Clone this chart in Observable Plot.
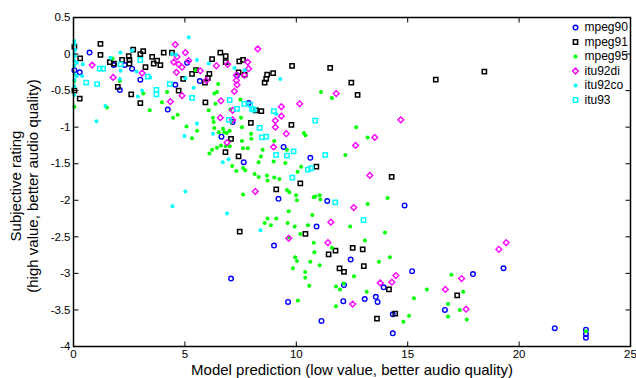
<!DOCTYPE html>
<html>
<head>
<meta charset="utf-8">
<script src="https://cdn.jsdelivr.net/npm/d3@7"></script>
<script src="https://cdn.jsdelivr.net/npm/@observablehq/plot@0.6"></script>
<style>
  html, body { margin: 0; padding: 0; background: #fff; }
  #chart { width: 636px; height: 378px; }
</style>
</head>
<body>
<div id="chart"></div>
<script>
// ---- data (x = model prediction, y = subjective rating) ----
const seriesNames = ["mpeg90", "mpeg91", "mpeg95", "itu92di", "itu92co", "itu93"];
const xTicks = [0, 5, 10, 15, 20, 25];
const yTicks = [0.5, 0, -0.5, -1, -1.5, -2, -2.5, -3, -3.5, -4];
const xLabel = "Model prediction (low value, better audio quality)";
const yLabelLines = ["Subjective rating", "(high value, better audio quality)"];

const mpeg90 = [[0.04,-0.22],[0.28,-0.25],[0.72,0.02],[1.81,-0.15],[2.3,-0.15],[2.63,-0.2],[3.0,-0.35],[2.08,-0.49],[4.57,-0.42],[4.23,-0.76],[5.1,-0.12],[5.67,-0.37],[7.34,-0.29],[7.86,-0.67],[7.14,-0.93],[6.64,-1.13],[9.43,-1.27],[7.64,-1.48],[10.63,-1.42],[9.2,-1.98],[11.39,-2.01],[10.91,-2.36],[9.0,-2.62],[14.86,-2.07],[12.44,-2.81],[7.07,-3.07],[12.14,-3.16],[9.63,-3.39],[12.11,-3.38],[11.13,-3.65],[15.2,-2.97],[13.92,-3.19],[13.07,-3.35],[13.57,-3.32],[13.65,-3.39],[14.33,-3.56],[14.33,-3.82],[17.93,-3.01],[16.67,-3.5],[19.3,-2.93],[21.6,-3.75],[23.0,-3.77],[23.0,-3.83],[23.0,-3.88]];

const mpeg91 = [[0.04,0.1],[0.04,-0.5],[0.3,-0.06],[0.28,-0.61],[1.21,0.14],[1.21,-0.01],[1.63,-0.11],[1.81,-0.13],[1.99,-0.45],[2.18,-0.08],[2.48,-0.03],[2.51,-0.08],[2.51,-0.13],[2.59,-0.55],[2.68,0.06],[3.0,0.0],[3.13,0.04],[3.0,-0.67],[3.23,-0.18],[3.53,-0.04],[3.6,-0.13],[3.75,-0.09],[3.9,-0.15],[4.05,0.02],[4.42,0.02],[4.72,-0.5],[4.92,-0.34],[5.32,-0.27],[5.5,-0.22],[5.92,-0.66],[5.9,-0.39],[6.22,-0.07],[6.59,0.02],[6.83,-0.03],[6.83,-0.11],[7.44,-0.1],[7.61,-0.08],[7.41,-0.25],[7.68,-0.28],[8.69,-0.28],[8.65,-0.34],[8.96,-0.26],[8.58,-0.39],[6.1,-0.27],[6.03,-0.33],[9.81,-0.16],[11.52,-0.19],[12.47,-0.39],[12.75,-0.56],[8.19,-0.77],[8.43,-0.78],[7.96,-0.94],[9.78,-0.97],[16.26,-0.35],[18.44,-0.24],[7.07,-1.16],[6.82,-1.34],[7.41,-1.4],[10.9,-1.54],[10.18,-1.77],[9.1,-1.85],[7.46,-2.43],[10.41,-2.46],[14.28,-1.68],[12.53,-2.65],[11.76,-2.69],[11.45,-2.74],[11.94,-2.93],[12.14,-2.98],[12.98,-2.67],[13.03,-2.9],[14.16,-3.22],[14.44,-3.55],[13.62,-3.62],[17.22,-3.3]];

const mpeg95 = [[0.04,-0.37],[0.04,-0.72],[1.5,-0.73],[1.75,-0.06],[2.08,-0.37],[3.13,-0.54],[3.42,-0.77],[3.97,-0.66],[4.2,-0.52],[4.47,-0.87],[4.67,-0.83],[5.07,-0.99],[5.47,-0.22],[6.07,-0.77],[6.49,-0.41],[6.32,-0.54],[6.44,-0.52],[6.37,-0.68],[7.49,-0.62],[7.04,-0.76],[6.26,-0.87],[6.29,-0.93],[6.32,-1.01],[7.1,-0.93],[7.52,-0.87],[7.56,-1.0],[11.11,-0.52],[11.6,-0.6],[12.69,-1.0],
[5.55,-1.05],[5.32,-1.15],[6.71,-1.02],[6.88,-1.08],[6.83,-1.26],[6.22,-1.31],[6.1,-1.36],
[6.52,-1.07],[6.77,-1.07],[7.01,-1.05],[7.97,-1.09],[7.98,-1.16],[6.44,-1.28],[6.62,-1.25],[7.01,-1.26],[7.56,-1.19],[7.61,-1.29],[7.82,-1.29],[8.49,-1.31],[8.41,-1.4],[9.01,-1.19],[9.58,-1.31],[8.31,-1.48],[8.98,-1.47],[9.51,-1.49],[7.12,-1.53],[7.61,-1.56],[7.71,-1.59],[7.31,-1.6],[8.13,-1.64],[8.31,-1.68],[8.68,-1.66],[9.01,-1.69],[9.24,-1.71],[8.71,-1.73],[10.22,-1.54],[10.06,-1.61],[10.34,-1.08],[10.41,-1.11],[12.2,-1.38],[7.61,-1.92],[9.58,-1.86],[9.69,-1.89],[9.99,-1.93],[10.03,-2.0],[10.78,-1.96],[10.85,-1.95],[11.05,-1.93],[11.08,-1.99],[9.66,-2.15],[10.72,-2.2],[8.71,-2.25],[9.1,-2.25],[8.58,-2.31],[8.86,-2.34],[9.61,-2.31],[9.93,-2.36],[10.52,-2.34],[12.42,-2.36],[10.18,-2.46],[9.66,-2.51],[10.78,-2.58],
[13.2,-1.14],[14.1,-1.97],[13.2,-2.05],[13.98,-2.44],[13.08,-2.55],
[11.6,-2.65],[9.95,-2.78],[10.03,-2.83],[10.81,-2.71],[10.63,-2.84],[9.85,-2.93],[11.05,-2.89],[10.4,-2.98],[10.4,-3.06],[12.59,-3.04],[10.58,-3.17],[12.13,-3.14],[11.78,-3.18],[11.96,-3.22],[10.07,-3.37],[11.78,-3.45],
[14.2,-2.78],[13.71,-2.84],[13.16,-3.25],[15.28,-3.34],[15.86,-3.22],[14.81,-3.66],[15.06,-3.58],[16.96,-3.02],[17.49,-3.25],[16.81,-3.42],[17.34,-3.5],[16.81,-3.59],[17.65,-3.63],[23.0,-3.79]];

const itu92di = [[0.84,-0.15],[1.78,-0.32],[3.08,-0.26],[4.57,0.13],[5.02,0.02],[4.65,-0.04],[4.5,-0.11],[4.72,-0.14],[4.62,-0.25],[4.87,-0.18],[5.17,-0.09],[5.69,-0.23],[6.41,-0.16],[5.96,-0.36],[4.87,-0.57],[4.35,-0.65],[8.27,0.07],[7.82,-0.11],[7.86,-0.2],[7.67,-0.29],[7.31,-0.29],[7.31,-0.36],[7.34,-0.42],[7.22,-0.51],[6.92,-0.14],[6.62,-0.64],[7.14,-0.77],[6.59,-0.87],[7.14,-0.9],[9.33,-0.72],[9.33,-0.85],[9.06,-0.91],[10.15,-0.68],[11.79,-0.54],[9.06,-1.0],[14.69,-0.9],[9.55,-1.09],[6.89,-1.21],[8.98,-1.27],[12.66,-1.25],[8.16,-1.88],[12.58,-2.1],[11.55,-2.3],[9.66,-2.52],[11.42,-2.58],[13.52,-1.14],[13.3,-1.66],[12.53,-3.42],[14.47,-3.03],[14.29,-3.12],[13.77,-3.13],[17.42,-3.07],[16.69,-3.22],[17.62,-3.49],[19.09,-2.67],[19.42,-2.58]];

const itu92co = [[0.04,0.18],[0.04,0.13],[0.07,0.06],[0.04,0.0],[0.06,-0.03],[0.04,-0.09],[0.15,-0.12],[0.04,-0.16],[0.06,-0.28],[0.15,-0.3],[0.04,-0.35],[0.04,-0.44],[0.04,-0.56],[0.42,-0.14],[0.39,-0.3],[1.03,-0.92],[1.43,-0.71],[1.66,-0.05],[2.11,0.02],[2.11,-0.23],[2.08,-0.34],[2.63,0.05],[2.83,-0.24],[2.89,-0.58],[3.08,-0.5],[3.45,-0.32],[4.42,0.0],[4.6,-0.01],[5.17,0.23],[5.54,-0.08],[5.02,-0.33],[5.39,-0.46],[5.54,-0.95],[6.07,-0.13],[7.22,-0.19],[7.68,-0.22],[9.28,-0.34],[9.1,-0.82],[4.98,-1.12],[6.26,-1.09],[5.02,-1.88],[4.44,-2.08],[6.96,-1.44],[6.7,-1.48],[6.89,-2.18],[8.39,-2.41]];

const itu93 = [[0.57,-0.39],[1.06,-0.41],[1.18,-0.2],[1.33,-0.2],[2.11,-0.14],[3.0,-0.08],[3.33,-0.31],[3.72,-0.49],[3.72,-0.55],[4.32,-0.41],[5.32,-0.6],[7.01,-0.63],[7.34,-0.75],[7.67,-0.68],[7.94,-0.69],[8.01,-0.75],[8.09,-0.76],[8.99,-0.78],[6.97,-0.9],[8.35,-1.01],[10.85,-0.91],[8.46,-1.14],[8.65,-1.13],[9.88,-1.33],[9.1,-1.38],[9.58,-1.39],[11.3,-1.38],[10.52,-1.58],[10.67,-1.56],[9.82,-1.69],[11.75,-2.03],[13.02,-2.27]];

// ---- styles ----
const styles = [
  {symbol: "circle", r: 2.3, stroke: "#0000ff", strokeWidth: 1.4, fill: "none"},
  {symbol: "square", r: 2.4, stroke: "#000000", strokeWidth: 1.5, fill: "none"},
  {symbol: "circle", r: 2.0, fill: "#00ff00", stroke: "none"},
  {symbol: "diamond2", r: 2.6, stroke: "#ff00ff", strokeWidth: 1.4, fill: "none"},
  {symbol: "circle", r: 2.0, fill: "#00ffff", stroke: "none"},
  {symbol: "square", r: 2.4, stroke: "#00ffff", strokeWidth: 1.5, fill: "none"}
];
const seriesData = [mpeg90, mpeg91, mpeg95, itu92di, itu92co, itu93];

const fmt = d => String(d);

// inward tick-mark symbols (5px lines)
const tickLen = 5;
const tickUp = {draw(ctx) { ctx.moveTo(0, 0); ctx.lineTo(0, -tickLen); }};
const tickDown = {draw(ctx) { ctx.moveTo(0, 0); ctx.lineTo(0, tickLen); }};
const tickRight = {draw(ctx) { ctx.moveTo(0, 0); ctx.lineTo(tickLen, 0); }};
const tickLeft = {draw(ctx) { ctx.moveTo(0, 0); ctx.lineTo(-tickLen, 0); }};
const xMin = 0, xMax = 25, yMin = -4, yMax = 0.5;

const marks = [];
seriesData.forEach((data, i) => {
  marks.push(Plot.dot(data, {x: d => d[0], y: d => d[1], ...styles[i]}));
});
// legend
seriesNames.forEach((name, i) => {
  marks.push(Plot.dot([name], {frameAnchor: "top-right", dx: -55, dy: 10 + i * 14.5, ...styles[i]}));
  marks.push(Plot.text([name], {text: d => d, frameAnchor: "top-right", dx: -46, dy: 10 + i * 14.5, textAnchor: "start", lineAnchor: "middle", fontSize: 12, fill: "black"}));
});

const tickStyle = {fill: "none", stroke: "black", strokeWidth: 1, r: 3};

const chart = Plot.plot({
  width: 636,
  height: 378,
  marginLeft: 73,
  marginRight: 6,
  marginTop: 17,
  marginBottom: 32,
  x: {domain: [xMin, xMax]},
  y: {domain: [yMin, yMax]},
  style: {fontFamily: "'Liberation Sans', Arial, Helvetica, sans-serif", fontSize: "11.5px", color: "black", background: "white"},
  marks: [
    ...marks,
    Plot.dot(xTicks, {x: d => d, y: () => yMin, symbol: tickUp, ...tickStyle}),
    Plot.dot(xTicks, {x: d => d, y: () => yMax, symbol: tickDown, ...tickStyle}),
    Plot.dot(yTicks, {y: d => d, x: () => xMin, symbol: tickRight, ...tickStyle}),
    Plot.dot(yTicks, {y: d => d, x: () => xMax, symbol: tickLeft, ...tickStyle}),
    Plot.frame({stroke: "black", strokeWidth: 1.5}),
    Plot.axisX({anchor: "bottom", ticks: xTicks, tickSize: 0, tickPadding: 3, tickFormat: fmt, label: null}),
    Plot.axisY({anchor: "left", ticks: yTicks, tickSize: 0, tickPadding: 3, tickFormat: fmt, label: null}),
    Plot.text([xLabel], {text: d => d, frameAnchor: "bottom", dy: 24, lineAnchor: "middle", textAnchor: "middle", fontSize: 15, fill: "black"}),
    Plot.text([yLabelLines.join("\n")], {text: d => d, frameAnchor: "left", rotate: -90, dx: -49.5, dy: 4, lineAnchor: "middle", textAnchor: "middle", fontSize: 15, lineHeight: 1.13, fill: "black"})
  ]
});
document.getElementById("chart").appendChild(chart);
</script>
</body>
</html>
